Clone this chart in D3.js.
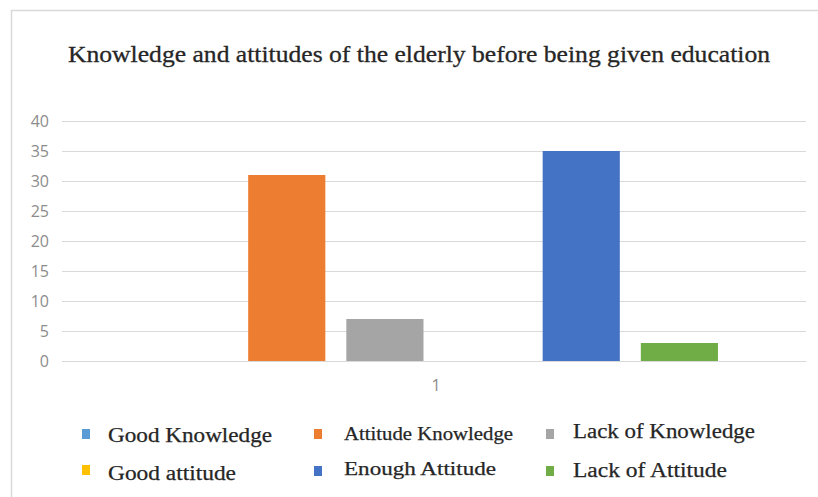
<!DOCTYPE html>
<html><head><meta charset="utf-8">
<script src="https://cdn.jsdelivr.net/npm/d3@7"></script>
<style>body{margin:0;background:#fff;}svg{display:block;}</style>
</head><body>
<script>
const categories = ["1"];
const seriesNames = ["Good Knowledge","Attitude Knowledge","Lack of Knowledge","Good attitude","Enough Attitude","Lack of Attitude"];
const seriesValues = [0, 31, 7, 0, 35, 3];
const seriesColors = ["#5b9bd5","#ed7d31","#a5a5a5","#ffc000","#4472c4","#70ad47"];
const yTicks = [0,5,10,15,20,25,30,35,40];
const title = "Knowledge and attitudes of the elderly before being given education";

const W = 818, H = 497;
const svg = d3.select("body").append("svg").attr("width", W).attr("height", H);
svg.append("rect").attr("width", W).attr("height", H).attr("fill", "#fff");
// frame
svg.append("rect").attr("x", 11.5).attr("y", 10.5).attr("width", W).attr("height", H)
  .attr("fill", "none").attr("stroke", "#d9d9d9").attr("stroke-width", 1.5);

const L = 62, R = 806, T = 121, B = 361;
const y = d3.scaleLinear().domain([0, 40]).range([B, T]);
const x0 = d3.scaleBand().domain(categories).range([L, R]).paddingInner(0).paddingOuter(0.155);
const x1 = d3.scaleBand().domain(seriesNames).range([0, x0.bandwidth()]).paddingInner(0.214).paddingOuter(0);

// title
svg.append("text").attr("x", 419).attr("y", 62).attr("text-anchor", "middle")
  .attr("font-family", "Liberation Serif, Times New Roman, serif").attr("font-size", 24)
  .attr("textLength", 702).attr("lengthAdjust", "spacingAndGlyphs")
  .attr("fill", "#262626").attr("stroke", "#262626").attr("stroke-width", 0.3).text(title);

// gridlines
const yAxis = d3.axisLeft(y).tickValues(yTicks).tickSize(-(R - L)).tickPadding(13);
const gy = svg.append("g").attr("transform", `translate(${L},0)`).call(yAxis);
gy.select(".domain").remove();
gy.selectAll(".tick line").attr("stroke", "#d9d9d9").attr("stroke-width", 1);
gy.selectAll(".tick text").attr("font-family", "Open Sans, Liberation Sans, sans-serif")
  .attr("font-size", 16).attr("fill", "#8c8c8c");

// bars
const g = svg.append("g");
categories.forEach(c => {
  g.selectAll("rect.bar").data(seriesNames).enter().append("rect")
    .attr("x", d => x0(c) + x1(d))
    .attr("y", (d, i) => y(seriesValues[i]))
    .attr("width", x1.bandwidth())
    .attr("height", (d, i) => B - y(seriesValues[i]))
    .attr("fill", (d, i) => seriesColors[i]);
});

// x axis
const xAxis = d3.axisBottom(x0).tickSize(0).tickPadding(19);
const gx = svg.append("g").attr("transform", `translate(0,${B})`).call(xAxis);
gx.select(".domain").attr("stroke", "#d9d9d9");
gx.selectAll(".tick text").attr("font-family", "Open Sans, Liberation Sans, sans-serif")
  .attr("font-size", 16).attr("fill", "#8c8c8c").attr("dx", 2);

// legend
const markX = [86, 318, 550];
const markY = [434, 434, 434, 470, 471, 471];
const legTextX = [108, 344, 573];
const legBase = [442, 440, 438, 480, 475, 477];
const legSizes = [20, 18, 20, 20, 18, 20];
const legWidths = [164, 169, 182, 128, 152, 154];
const lg = svg.append("g");
seriesNames.forEach((n, i) => {
  const col = i % 3;
  lg.append("rect").attr("x", markX[col] - 4).attr("y", markY[i] - 5)
    .attr("width", 8).attr("height", 10).attr("fill", seriesColors[i]);
  lg.append("text").attr("x", legTextX[col]).attr("y", legBase[i])
    .attr("font-family", "Liberation Serif, Times New Roman, serif")
    .attr("font-size", legSizes[i]).attr("textLength", legWidths[i]).attr("lengthAdjust", "spacingAndGlyphs")
    .attr("fill", "#262626").attr("stroke", "#262626").attr("stroke-width", 0.25).text(n);
});
</script>
</body></html>
